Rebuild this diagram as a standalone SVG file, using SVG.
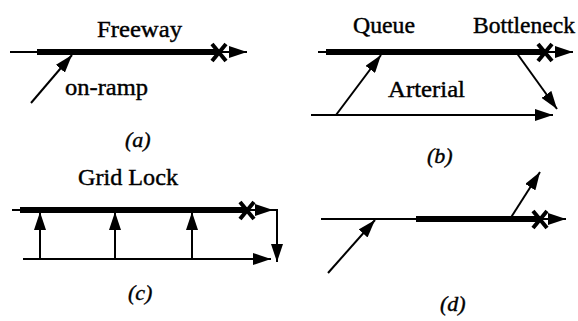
<svg xmlns="http://www.w3.org/2000/svg" width="578" height="321" viewBox="0 0 578 321">
<defs>
<marker id="ah" markerUnits="userSpaceOnUse" viewBox="0 0 18 12" refX="18" refY="6" markerWidth="18" markerHeight="12" orient="auto">
<path d="M0,0 L18,6 L0,12 z" fill="#000"/>
</marker>
<style>
.thin{stroke:#000;stroke-width:2;fill:none}
.thick{stroke:#000;stroke-width:6;fill:none}
.arr{stroke:#000;stroke-width:2;fill:none;marker-end:url(#ah)}
.x{stroke:#000;stroke-width:4;fill:none}
text{fill:#000;stroke:#000;stroke-width:0.4}
</style>
</defs>
<rect width="578" height="321" fill="#fff"/>

<g id="panel-a" font-family="Liberation Serif, Times New Roman, serif" font-size="23">
<text x="97" y="37" textLength="85" lengthAdjust="spacingAndGlyphs">Freeway</text>
<text x="65" y="95" textLength="83" lengthAdjust="spacingAndGlyphs">on-ramp</text>
<text x="125" y="147" font-style="italic" font-size="22">(a)</text>
</g>
<g id="panel-b" font-family="Liberation Serif, Times New Roman, serif" font-size="23">
<text x="353" y="33" textLength="62" lengthAdjust="spacingAndGlyphs">Queue</text>
<text x="473" y="33" textLength="102" lengthAdjust="spacingAndGlyphs">Bottleneck</text>
<text x="388" y="97" textLength="77" lengthAdjust="spacingAndGlyphs">Arterial</text>
<text x="427" y="163" font-style="italic" font-size="22">(b)</text>
</g>
<g id="panel-c" font-family="Liberation Serif, Times New Roman, serif" font-size="23">
<text x="78" y="185" textLength="100" lengthAdjust="spacingAndGlyphs">Grid Lock</text>
<text x="128" y="300" font-style="italic" font-size="22">(c)</text>
</g>
<g id="panel-d" font-family="Liberation Serif, Times New Roman, serif" font-size="23">
<text x="440" y="311" font-style="italic" font-size="22">(d)</text>
</g>

<g id="connectors">
<!-- (a) -->
<path class="thin" d="M10,52 H38"/>
<path class="thick" d="M37,52 H219"/>
<path class="arr" d="M219,52 H247"/>
<path class="x" d="M212,44 L226,61 M226,44 L212,61"/>
<path class="arr" d="M31,103 L72,55"/>
<!-- (b) -->
<path class="thin" d="M318,52 H327"/>
<path class="thick" d="M326,52 H545"/>
<path class="arr" d="M545,52 H573"/>
<path class="x" d="M538,44 L552,61 M552,44 L538,61"/>
<path class="arr" d="M336,115 L381,55"/>
<path class="arr" d="M516,52 L557,109"/>
<path class="arr" d="M311,115 H553"/>
<!-- (c) -->
<path class="thin" d="M12,210 H21"/>
<path class="thick" d="M20,210 H247"/>
<path class="arr" d="M247,210 H273"/>
<path class="thin" d="M270,210 H277"/>
<path class="arr" d="M277,209 V262"/>
<path class="x" d="M240,202 L254,219 M254,202 L240,219"/>
<path class="arr" d="M23,259 H271"/>
<path class="arr" d="M40,259 V212"/>
<path class="arr" d="M115,259 V212"/>
<path class="arr" d="M192,259 V212"/>
<!-- (d) -->
<path class="thin" d="M321,219 H417"/>
<path class="thick" d="M416,219 H540"/>
<path class="arr" d="M540,219 H566"/>
<path class="x" d="M533,211 L547,228 M547,211 L533,228"/>
<path class="arr" d="M510,219 L540,172"/>
<path class="arr" d="M328,273 L375,220"/>
</g>
</svg>
